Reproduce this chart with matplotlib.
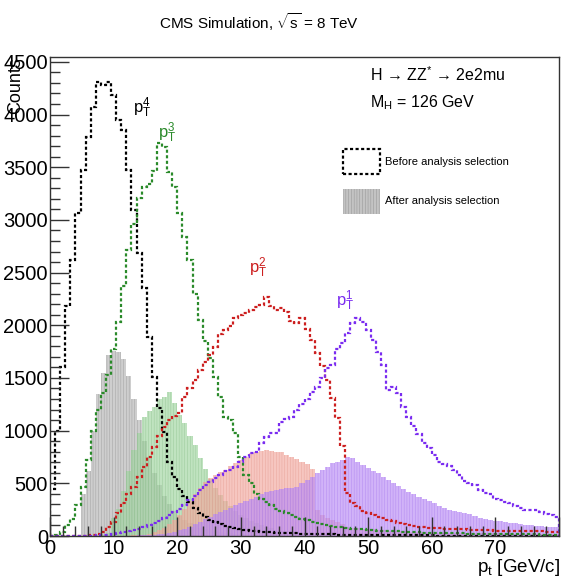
import numpy as np
import matplotlib
matplotlib.use('Agg')
import matplotlib.pyplot as plt
from matplotlib.ticker import MultipleLocator, FuncFormatter
from matplotlib.patches import Patch

plt.rcParams['font.family'] = ['Liberation Sans', 'DejaVu Sans']
plt.rcParams['mathtext.fontset'] = 'custom'
plt.rcParams['mathtext.rm'] = 'Liberation Sans'
plt.rcParams['mathtext.it'] = 'Liberation Sans:italic'
plt.rcParams['mathtext.bf'] = 'Liberation Sans:bold'
plt.rcParams['hatch.linewidth'] = 0.35

# ---------------- data (100 bins of 0.8 GeV, 0..80 GeV) ----------------
bin_edges = np.linspace(0, 80, 101)

pt4_before = [
    450, 1000, 1600, 2180, 2620, 3065, 3470, 3790, 4070, 4310,
    4280, 4310, 4190, 3950, 3850, 3470, 3090, 2690, 2350, 1890,
    1510, 1215, 990, 700, 560, 450, 380, 320, 270, 220,
    180, 150, 130, 110, 95, 85, 75, 65, 58, 50,
    45, 42, 38, 35, 32, 30, 28, 26, 24, 22,
    20, 19, 18, 17, 16, 15, 14, 13, 12, 11,
    10, 10, 9, 9, 8, 8, 7, 7, 7, 6,
    6, 6, 5, 5, 5, 5, 4, 4, 4, 4,
    4, 4, 3, 3, 3, 3, 3, 3, 3, 2,
    2, 2, 2, 2, 2, 2, 2, 2, 2, 2]

pt3_before = [
    0, 5, 40, 100, 160, 290, 465, 720, 1000, 1200,
    1360, 1530, 1770, 2030, 2370, 2710, 2960, 3210, 3310, 3340,
    3460, 3730, 3690, 3450, 3310, 3065, 2840, 2620, 2300, 2050,
    1850, 1690, 1510, 1320, 1130, 1100, 980, 750, 580, 500,
    400, 350, 320, 290, 260, 240, 220, 200, 180, 160,
    150, 130, 120, 110, 100, 95, 90, 85, 80, 70,
    65, 62, 58, 55, 52, 50, 48, 45, 43, 41,
    39, 37, 35, 33, 32, 30, 29, 28, 27, 26,
    25, 24, 23, 22, 21, 20, 20, 19, 18, 18,
    17, 17, 16, 16, 15, 15, 14, 14, 13, 13]

pt2_before = [
    0, 0, 0, 0, 0, 0, 0, 5, 10, 20,
    40, 85, 133, 220, 313, 400, 465, 560, 655, 750,
    845, 950, 1030, 1100, 1140, 1167, 1320, 1400, 1480, 1575,
    1650, 1720, 1795, 1920, 1955, 1990, 2070, 2100, 2115, 2145,
    2175, 2190, 2270, 2180, 2145, 2160, 2130, 2040, 2020, 2070,
    1960, 1860, 1735, 1610, 1480, 1310, 1120, 850, 410, 313,
    280, 240, 220, 200, 185, 170, 155, 140, 125, 115,
    105, 95, 88, 82, 78, 75, 72, 70, 68, 66,
    64, 62, 60, 58, 56, 55, 54, 52, 51, 50,
    49, 48, 47, 46, 45, 44, 43, 42, 41, 40]

pt1_before = [
    0, 0, 0, 0, 0, 0, 0, 0, 3, 5,
    8, 11, 15, 25, 35, 45, 57, 70, 85, 100,
    120, 145, 170, 200, 225, 260, 290, 340, 380, 436,
    480, 510, 550, 580, 620, 630, 655, 700, 750, 790,
    800, 880, 940, 977, 977, 1080, 1110, 1130, 1200, 1250,
    1300, 1370, 1415, 1500, 1590, 1620, 1770, 1830, 1925, 2020,
    2070, 2030, 1955, 1860, 1750, 1620, 1390, 1410, 1360, 1220,
    1130, 1040, 965, 880, 835, 770, 700, 680, 660, 625,
    580, 520, 500, 485, 440, 410, 400, 350, 340, 325,
    310, 280, 270, 250, 250, 245, 230, 210, 200, 185]

pt4_after = [
    0, 0, 0, 0, 0, 0, 400, 620, 1000, 1350,
    1550, 1720, 1760, 1750, 1680, 1520, 1300, 1100, 900, 750,
    600, 480, 380, 300, 240, 190, 150, 120, 100, 80,
    65, 55, 45, 38, 32, 27, 23, 20, 18, 16,
    14, 12, 11, 10, 9, 8, 7, 6, 6, 5,
    5, 4, 4, 3, 3, 3, 2, 2, 2, 2,
    2, 2, 1, 1, 1, 1, 1, 1, 1, 1,
    1, 1, 1, 1, 0, 0, 0, 0, 0, 0,
    0, 0, 0, 0, 0, 0, 0, 0, 0, 0,
    0, 0, 0, 0, 0, 0, 0, 0, 0, 0]

pt3_after = [
    0, 0, 0, 0, 0, 0, 0, 0, 0, 0,
    10, 30, 170, 260, 430, 620, 820, 980, 1130, 1190,
    1220, 1300, 1320, 1365, 1260, 1150, 1070, 950, 860, 740,
    640, 540, 460, 390, 330, 280, 240, 200, 170, 145,
    120, 100, 85, 72, 60, 52, 45, 40, 35, 30,
    27, 24, 21, 19, 17, 15, 13, 12, 11, 10,
    9, 9, 8, 8, 7, 7, 6, 6, 6, 5,
    5, 5, 5, 4, 4, 4, 4, 4, 3, 3,
    3, 3, 3, 3, 3, 3, 2, 2, 2, 2,
    2, 2, 2, 2, 2, 2, 2, 2, 2, 2]

pt2_after = [
    0, 0, 0, 0, 0, 0, 0, 0, 0, 0,
    0, 0, 0, 0, 0, 3, 5, 8, 10, 20,
    35, 55, 80, 110, 150, 200, 260, 330, 400, 460,
    510, 550, 580, 610, 630, 660, 690, 720, 750, 790,
    800, 810, 816, 810, 800, 795, 770, 750, 730, 700,
    680, 640, 250, 200, 170, 150, 130, 110, 90, 80,
    75, 70, 66, 62, 58, 55, 52, 49, 46, 44,
    42, 40, 38, 36, 35, 34, 33, 32, 31, 30,
    29, 28, 27, 26, 26, 25, 25, 24, 24, 23,
    23, 22, 22, 21, 21, 21, 20, 20, 20, 20]

pt1_after = [
    0, 0, 0, 0, 0, 0, 0, 0, 0, 0,
    0, 0, 0, 0, 0, 0, 3, 5, 8, 10,
    13, 16, 20, 30, 40, 55, 70, 85, 110, 130,
    160, 185, 210, 230, 250, 270, 290, 310, 330, 350,
    370, 395, 415, 430, 440, 450, 455, 460, 465, 500,
    530, 560, 600, 630, 655, 690, 705, 720, 750, 740,
    700, 670, 650, 620, 600, 560, 530, 500, 470, 450,
    420, 395, 370, 350, 330, 310, 280, 265, 250, 240,
    230, 218, 205, 190, 175, 165, 152, 145, 140, 130,
    125, 120, 110, 105, 100, 95, 92, 90, 88, 85]

labels_tex = [r'$\mathrm{p}_{\mathrm{T}}^{4}$', r'$\mathrm{p}_{\mathrm{T}}^{3}$',
              r'$\mathrm{p}_{\mathrm{T}}^{2}$', r'$\mathrm{p}_{\mathrm{T}}^{1}$']
label_pos = [(13.1, 4060), (17.0, 3830), (31.2, 2550), (45.0, 2230)]

line_colors = ['#000000', '#2a8a2a', '#cc1f1f', '#7a2cf0']
fill_face = ['#b4b4b4', '#9fd49f', '#f2a89e', '#b98af5']
fill_hatch = ['#8a8a8a', '#85bd85', '#e09488', '#a274ec']

# ---------------- figure ----------------
W, H = 568, 583
fig = plt.figure(figsize=(W / 100, H / 100), dpi=100)
ax = fig.add_axes([50 / W, 1 - 536 / H, (559 - 50) / W, (536 - 57) / H])

afters = [pt4_after, pt3_after, pt2_after, pt1_after]
befores = [pt4_before, pt3_before, pt2_before, pt1_before]

for vals, fc, hc in zip(afters, fill_face, fill_hatch):
    ax.stairs(vals, bin_edges, fill=True, facecolor=fc, edgecolor=hc,
              hatch='||||||', linewidth=0, alpha=0.65)

for vals, c in zip(befores, line_colors):
    ax.stairs(vals, bin_edges, color=c, linewidth=1.6,
              linestyle=(0, (1.4, 1.1)))

for t, (x, y), c in zip(labels_tex, label_pos, line_colors):
    ax.text(x, y, t, color=c, fontsize=12, ha='left', va='center')

ax.set_xlim(0, 80)
ax.set_ylim(0, 4546)
ax.xaxis.set_major_locator(MultipleLocator(10))
ax.xaxis.set_minor_locator(MultipleLocator(2))
ax.xaxis.set_major_formatter(FuncFormatter(lambda v, p: '' if v >= 79 else f'{v:.0f}'))
ax.yaxis.set_major_locator(MultipleLocator(500))
ax.yaxis.set_minor_locator(MultipleLocator(100))
ax.tick_params(which='major', direction='in', length=14, width=1,
               labelsize=14.5, color='#333333')
ax.tick_params(which='minor', direction='in', length=7, width=1,
               color='#333333')
ax.tick_params(axis='y', pad=1.5)
ax.tick_params(axis='x', pad=2)
for s in ax.spines.values():
    s.set_linewidth(1)
    s.set_color('#333333')

# ---------------- texts ----------------
fig.text(259 / W, 1 - 22 / H, r'CMS Simulation, $\sqrt{\mathrm{s}}$ = 8 TeV',
         ha='center', va='center', fontsize=11)
fig.text(16 / W, 1 - 57 / H, 'Counts', rotation=90, ha='center', va='top',
         fontsize=13)
fig.text(560 / W, 1 - 568 / H, r'p$_{\mathrm{t}}$ [GeV/c]', ha='right',
         va='center', fontsize=13.5)
fig.text(370 / W, 1 - 75 / H, 'H \u2192 ZZ$^{*}$ \u2192 2e2mu',
         ha='left', va='center', fontsize=11.5)
fig.text(370 / W, 1 - 103 / H, r'M$_{\mathrm{H}}$ = 126 GeV',
         ha='left', va='center', fontsize=11.5)

handles = [
    Patch(facecolor='none', edgecolor='black', linestyle=(0, (1.4, 1.1)),
          linewidth=1.6),
    Patch(facecolor=fill_face[0], edgecolor=fill_hatch[0], hatch='||||||',
          linewidth=0, alpha=0.8),
]
fig.legend(handles, ['Before analysis selection', 'After analysis selection'],
           loc='upper left', bbox_to_anchor=(343 / W, 1 - 149 / H),
           frameon=False, fontsize=8, handlelength=3.3, handleheight=3.1,
           handletextpad=0.45, labelspacing=1.3, borderpad=0,
           borderaxespad=0)

fig.savefig('out.png', dpi=100)
